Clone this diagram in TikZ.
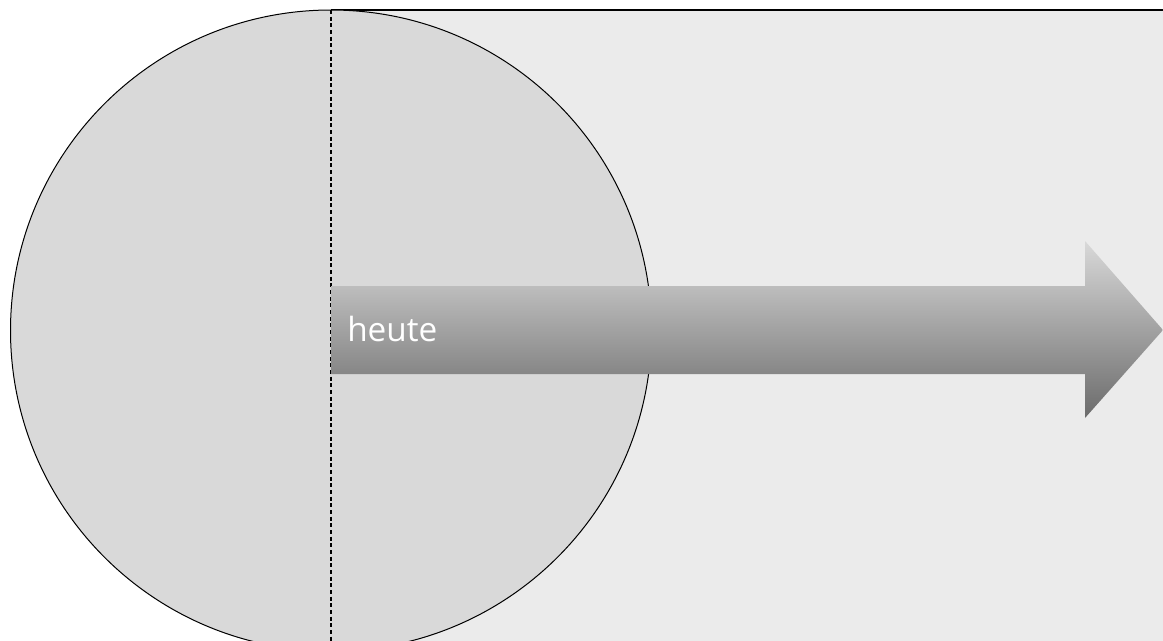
\documentclass[tikz,border=0pt]{standalone}
\usepackage{fontspec}
\setsansfont{Open Sans}
\usetikzlibrary{positioning}

\begin{document}
\begin{tikzpicture}[
  x=0.75pt, y=-0.75pt,
  field/.style={fill=black!8},
  disc/.style={draw=black, fill=black!15, line width=0.75pt},
  divider/.style={draw=black, line width=0.8pt, dash pattern=on 3pt off 2pt},
  timeline/.style={top color=black!15, bottom color=black!58, shading angle=0},
  tag/.style={text=white, font=\sffamily\fontsize{25}{29}\selectfont, inner sep=0pt},
]
  \useasboundingbox (0,0) rectangle (1163,640);
  \clip (0,0) rectangle (1163,640);

  % background field
  \fill[white] (0,0) rectangle (1163,640);
  \path[field] (331,10) rectangle (1170,650);
  \draw[line width=1.1pt] (331,10) -- (1170,10);

  % circle
  \path[disc] (331,330.5) circle[radius=320.5];

  % today line
  \coordinate (top) at (331,10);
  \coordinate (bot) at (331,645);
  \draw[divider] (top) -- (bot);

  % arrow
  \path[timeline] (331,286) -- (1085,286) -- (1085,241) -- (1163,330)
    -- (1085,418) -- (1085,374) -- (331,374) -- cycle;

  \node[tag, anchor=base west] (today) at (347,341) {heute};
\end{tikzpicture}
\end{document}
